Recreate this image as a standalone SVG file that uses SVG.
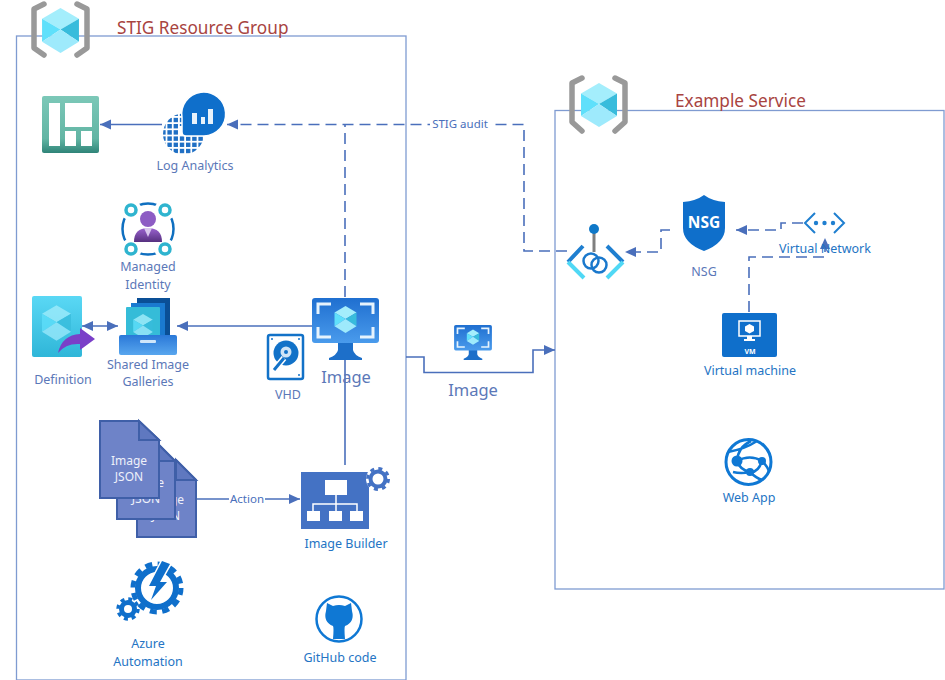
<svg xmlns="http://www.w3.org/2000/svg" width="945" height="680" viewBox="0 0 945 680">
<style>
text{font-family:"Noto Sans","Open Sans","Liberation Sans",sans-serif;text-anchor:middle}
.box{fill:none;stroke:#7f9bd1;stroke-width:1.3}
.title{font-size:17.200px;fill:#a8443f;text-anchor:start}
.lb{font-size:12.500px;fill:#5b78b8}
.lc{font-size:12.500px;fill:#2474c4}
.cn{fill:none;stroke:#4a6fbb;stroke-width:1.600}
.d{stroke-dasharray:11 6}
.brk{fill:none;stroke:#999;stroke-width:5.500;stroke-linejoin:round;stroke-linecap:round}
.doc{fill:#6e83c8;stroke:#3f5fa8;stroke-width:2}
.fold{fill:#5f78c0;stroke:#3f5fa8;stroke-width:2}
.dt{font-size:12px;fill:#eef1fa}
</style>
<defs>
<marker id="ah" markerWidth="12" markerHeight="12" refX="11" refY="5" orient="auto-start-reverse" markerUnits="userSpaceOnUse"><path d="M0 0L11 5L0 10Z" fill="#4a6fbb"/></marker>
<linearGradient id="mon" x1="0" y1="0" x2="0" y2="1"><stop offset="0" stop-color="#1f6fd0"/><stop offset="1" stop-color="#4a9bec"/></linearGradient>
<linearGradient id="teal" x1="0" y1="0" x2="0" y2="1"><stop offset="0" stop-color="#7cc8b8"/><stop offset=".75" stop-color="#62b5a4"/><stop offset="1" stop-color="#2f8478"/></linearGradient>
<linearGradient id="defg" x1="0" y1="0" x2="0" y2="1"><stop offset="0" stop-color="#5ad8f5"/><stop offset="1" stop-color="#2fb6d8"/></linearGradient>
<linearGradient id="tray" x1="0" y1="0" x2="0" y2="1"><stop offset="0" stop-color="#2a78d8"/><stop offset="1" stop-color="#58a6ee"/></linearGradient>
<linearGradient id="user" x1="0" y1="0" x2="0" y2="1"><stop offset="0" stop-color="#9a63cf"/><stop offset="1" stop-color="#56307f"/></linearGradient>
<pattern id="dots" width="6.200" height="6.200" patternUnits="userSpaceOnUse"><rect width="4.400" height="4.400" fill="#1f6fc4"/></pattern>
<symbol id="cube" viewBox="0 0 36 44" overflow="visible">
<path d="M18 0L36 10.500L18 21L0 10.500Z" fill="#a4eefc"/>
<path d="M0 10.500L18 21L0 33Z" fill="#5fe0fb"/>
<path d="M36 10.500V33L18 21Z" fill="#38bcdc"/>
<path d="M0 33L18 21L36 33L18 44Z" fill="#9eeafc"/>
</symbol>
<symbol id="monitor" viewBox="0 0 67 62" overflow="visible">
<path d="M26 44H41V52Q42 57 50 60V62H17V60Q25 57 26 52Z" fill="#1d6fc9"/>
<rect width="67" height="45" rx="3" fill="url(#mon)"/>
<path d="M6 16V6H19M48 6H61V16M61 29V39H48M19 39H6V29" fill="none" stroke="#e6f3fd" stroke-width="3"/>
<use href="#cube" x="22.500" y="8" width="22" height="27"/>
</symbol>
</defs>

<g id="groups">
<rect class="box" x="16.500" y="36" width="389.500" height="644"/>
<rect class="box" x="555" y="110.500" width="389" height="478.500"/>
</g>

<g id="connectors">
<path class="cn" d="M162 124.500H100" marker-end="url(#ah)"/>
<path class="cn d" d="M345 297V124.500"/>
<path class="cn d" d="M567 251H524V124.500H227" marker-end="url(#ah)"/>
<path class="cn d" d="M670 230H661V252H625" marker-end="url(#ah)"/>
<path class="cn d" d="M803 223H781V230H736" marker-end="url(#ah)"/>
<path class="cn d" d="M749 312V257H825V238" marker-end="url(#ah)"/>
<path class="cn" d="M312 326H177" marker-end="url(#ah)"/>
<path class="cn" d="M82 326H118" marker-start="url(#ah)" marker-end="url(#ah)"/>
<path class="cn" d="M345 465V358"/>
<path class="cn" d="M196 499H300" marker-end="url(#ah)"/>
<path class="cn" d="M406 357H424V372.500H533V350H555" marker-end="url(#ah)"/>
</g>

<g id="rg1">
<path class="brk" d="M44 4L34 9V48L44 55M77 4L87 9V48L77 55"/>
<use href="#cube" x="42" y="8" width="37" height="45"/>
<text class="title" x="117" y="34">STIG Resource Group</text>
</g>
<g id="rg2">
<path class="brk" d="M582 78L572 83V122L582 131M615 78L625 83V122L615 131"/>
<use href="#cube" x="581" y="83" width="36" height="44"/>
<text class="title" x="675" y="107">Example Service</text>
</g>

<g id="dashboard">
<rect x="42" y="96" width="57" height="57" rx="2" fill="url(#teal)"/>
<path d="M49 103H60V146H49ZM65 103H92V127H65ZM65 131H76V146H65ZM81 131H92V146H81Z" fill="#fff"/>
</g>

<g id="log-analytics">
<circle cx="183.500" cy="134" r="20.500" fill="url(#dots)"/>
<rect x="179" y="126" width="6" height="10" fill="#fff"/>
<path d="M182 118A22 22 0 1 1 204 136H186Q182 136 182 132Z" fill="#0f6fcb" stroke="#fff" stroke-width="1.500"/>
<path d="M192 113H197V124H192ZM201 117H205V124H201ZM208 109H213V124H208Z" fill="#e8f2fb"/>
<text class="lb" x="195" y="170">Log Analytics</text>
</g>

<g id="managed-identity">
<circle cx="148" cy="229" r="25.500" fill="none" stroke="#0f6fc0" stroke-width="2.500"/>
<g fill="#fff" stroke="#fff" stroke-width="3">
<circle cx="131" cy="210" r="9"/><circle cx="165" cy="210" r="9"/><circle cx="131" cy="249" r="9"/><circle cx="165" cy="249" r="9"/>
</g>
<g fill="#fff" stroke="#2fb4cf" stroke-width="3.500">
<circle cx="131" cy="210" r="5"/><circle cx="165" cy="210" r="5"/><circle cx="131" cy="249" r="5"/><circle cx="165" cy="249" r="5"/>
</g>
<circle cx="148" cy="219" r="8" fill="#8d5cc4"/>
<path d="M134 242Q134 228 148 228Q162 228 162 242Z" fill="url(#user)"/>
<path d="M144 228H152L148 237Z" fill="#d9c8ee"/>
<text class="lb" x="148" y="271">Managed</text>
<text class="lb" x="148" y="289">Identity</text>
</g>

<g id="definition">
<rect x="32" y="296" width="50" height="61" rx="2" fill="url(#defg)"/>
<g opacity=".75"><use href="#cube" x="42" y="305" width="29" height="36"/></g>
<path d="M58 353Q62 335 80 334V328L95 339L80 350V344Q66 343 58 353Z" fill="#7a3fc8"/>
<text class="lb" x="63" y="384">Definition</text>
</g>

<g id="shared-image-galleries">
<rect x="137" y="298" width="33" height="40" fill="#0a4f96"/>
<rect x="131" y="303" width="34" height="36" fill="#1a7ad0"/>
<rect x="126" y="307" width="34" height="34" rx="1" fill="#35bcd8"/>
<g opacity=".8"><use href="#cube" x="133" y="314" width="20" height="24"/></g>
<rect x="119" y="335" width="58" height="20" rx="2" fill="url(#tray)"/>
<rect x="140" y="340" width="16" height="3" rx="1" fill="#cfe6fa"/>
<text class="lb" x="148" y="369">Shared Image</text>
<text class="lb" x="148" y="386">Galleries</text>
</g>

<g id="image-monitor">
<use href="#monitor" x="312" y="298" width="67" height="62"/>
<text x="346" y="383" font-size="16.500" fill="#5b78b8">Image</text>
</g>

<g id="vhd">
<rect x="268" y="335" width="35" height="44" rx="2" fill="#fff" stroke="#1272c8" stroke-width="2.500"/>
<circle cx="286" cy="353" r="12.500" fill="#1272c8"/>
<circle cx="286" cy="352" r="5.500" fill="#cfe4f6"/>
<circle cx="286" cy="352" r="2" fill="#1272c8"/>
<path d="M284 358L274 370" stroke="#fff" stroke-width="6"/><path d="M284 358L274 370" stroke="#1272c8" stroke-width="3"/>
<g fill="#1272c8"><circle cx="272" cy="339" r="1"/><circle cx="299" cy="339" r="1"/><circle cx="299" cy="375" r="1"/></g>
<text class="lb" x="288" y="399">VHD</text>
</g>

<g id="image-transfer">
<use href="#monitor" x="447" y="325" width="52" height="35" preserveAspectRatio="none"/>
<text x="473" y="396" font-size="16.500" fill="#5b78b8">Image</text>
</g>

<g id="image-json">
<path class="doc" d="M137 460H176L196 480V537H137Z"/><path class="fold" d="M176 460V480H196Z"/>
<text class="dt" x="166" y="504">Image</text><text class="dt" x="166" y="520">JSON</text>
<path class="doc" d="M117 442H156L175 461V519H117Z"/><path class="fold" d="M156 442V461H175Z"/>
<text class="dt" x="146" y="487">Image</text><text class="dt" x="146" y="503">JSON</text>
<path class="doc" d="M100 421H139L159 440V498H100Z"/><path class="fold" d="M139 421V440H159Z"/>
<text class="dt" x="129" y="465">Image</text><text class="dt" x="129" y="481">JSON</text>
</g>

<g id="action-label">
<rect x="229" y="492" width="36" height="14" fill="#fff"/>
<text x="247" y="503" font-size="11.500" fill="#4a6fbb">Action</text>
</g>
<g id="stig-label">
<rect x="430" y="117" width="60" height="14" fill="#fff"/>
<text x="460" y="128" font-size="11.500" fill="#4a6fbb">STIG audit</text>
</g>

<g id="image-builder">
<rect x="301" y="472" width="68" height="57" fill="#4472c4"/>
<path d="M325 480H347V495H325ZM307 511H320V521H307ZM329 511H342V521H329ZM350 511H363V521H350Z" fill="#fff"/>
<path d="M336 495V504M313 511V504H357V511M336 504V511" fill="none" stroke="#fff" stroke-width="1.500"/>
<circle cx="378" cy="479" r="12" fill="#fff"/>
<circle cx="378" cy="479" r="7.500" fill="none" stroke="#4472c4" stroke-width="4"/>
<circle cx="378" cy="479" r="10.500" fill="none" stroke="#4472c4" stroke-width="3" stroke-dasharray="4 4.250"/>
<text class="lc" x="346" y="548">Image Builder</text>
</g>

<g id="azure-automation">
<circle cx="157" cy="588" r="19" fill="#fff" stroke="#0f6fcb" stroke-width="6"/>
<circle cx="157" cy="588" r="24" fill="none" stroke="#0f6fcb" stroke-width="5" stroke-dasharray="7 5.560"/>
<path d="M162 561L170 564L160 582H167L151 600L156 586H149Z" fill="#fff" stroke="#fff" stroke-width="3"/>
<path d="M162 561L170 564L160 582H167L151 600L156 586H149Z" fill="#0f6fcb"/>
<circle cx="128" cy="609" r="6.500" fill="#fff" stroke="#0f6fcb" stroke-width="5"/>
<circle cx="128" cy="609" r="10" fill="none" stroke="#0f6fcb" stroke-width="3.500" stroke-dasharray="4 3.850"/>
<text class="lc" x="148" y="648">Azure</text>
<text class="lc" x="148" y="666">Automation</text>
</g>

<g id="github">
<circle cx="339" cy="619" r="22.500" fill="#fff" stroke="#0f78d4" stroke-width="2.500"/>
<path d="M327 603L333 606Q339 604 345 606L351 603L352 611Q355 622 345 626Q344 628 345 639H333Q334 628 333 626Q323 622 326 611Z" fill="#0f78d4"/>
<text class="lc" x="340" y="662">GitHub code</text>
</g>

<g id="private-link">
<path d="M594 229V252" stroke="#7f7f7f" stroke-width="3"/>
<circle cx="594" cy="229" r="5" fill="#0f78c8"/>
<path d="M583 246L568 262M607 246L623 262" fill="none" stroke="#1f7fd0" stroke-width="4"/>
<path d="M568 262L584 278M623 262L607 278" fill="none" stroke="#50d8f5" stroke-width="4"/>
<circle cx="591" cy="261" r="7.500" fill="none" stroke="#1a78cc" stroke-width="2.500"/>
<circle cx="599" cy="265" r="7.500" fill="none" stroke="#1a78cc" stroke-width="2.500"/>
</g>

<g id="nsg">
<path d="M704 195Q712 201 725 202V228Q725 243 704 251Q683 243 683 228V202Q696 201 704 195Z" fill="#0f6fcb"/>
<text x="704" y="228" font-size="15.500" font-weight="700" fill="#fff">NSG</text>
<text class="lb" x="704" y="276">NSG</text>
</g>

<g id="virtual-network">
<path d="M815 213L805 223L815 233M834 213L844 223L834 233" fill="none" stroke="#1f7fd0" stroke-width="2"/>
<g fill="#1f7fd0"><circle cx="816" cy="223" r="2.200"/><circle cx="824.500" cy="223" r="2.200"/><circle cx="833" cy="223" r="2.200"/></g>
<text class="lc" x="825" y="253">Virtual Network</text>
</g>

<g id="virtual-machine">
<rect x="722" y="313" width="55" height="44" rx="2" fill="#0f6fcb"/>
<rect x="739" y="321" width="21" height="15" fill="none" stroke="#fff" stroke-width="1.500"/>
<path d="M749.500 324L754 326.500V331L749.500 333.500L745 331V326.500Z" fill="#fff"/>
<path d="M747 336H752V339H755V341H744V339H747Z" fill="#fff"/>
<text x="750" y="354" font-size="7" font-weight="700" fill="#fff">VM</text>
<text class="lc" x="750" y="375">Virtual machine</text>
</g>

<g id="web-app">
<circle cx="748.500" cy="462" r="22.500" fill="#fff" stroke="#0f78d4" stroke-width="3"/>
<path d="M728 452Q745 449 757 441M737 461Q738 447 751 441M737 461Q750 454 762 461Q768 467 769 472M737 461Q740 470 750 472Q758 473 762 461M750 472Q756 478 762 480M733 472Q741 474 750 472" fill="none" stroke="#0f78d4" stroke-width="2.500"/>
<circle cx="737" cy="461" r="5.500" fill="#0f78d4"/><circle cx="762" cy="461" r="4" fill="#0f78d4"/><circle cx="750" cy="472" r="4" fill="#0f78d4"/>
<text class="lc" x="749" y="502">Web App</text>
</g>
</svg>
